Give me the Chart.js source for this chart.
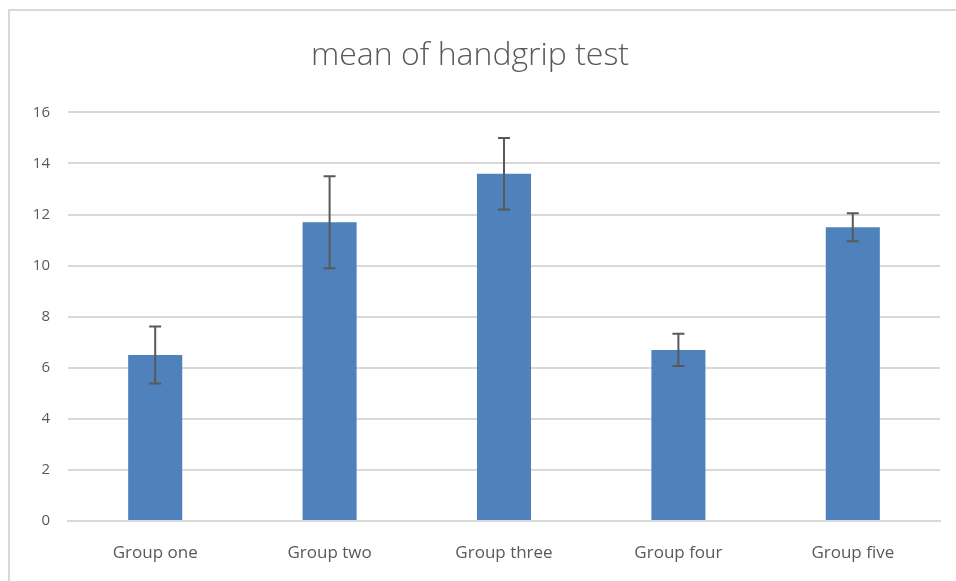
<!DOCTYPE html>
<html>
<head>
<meta charset="utf-8">
<script src="https://cdn.jsdelivr.net/npm/chart.js@4/dist/chart.umd.min.js"></script>
<style>
  html, body { margin: 0; padding: 0; background: #fff; }
  #wrap { position: relative; width: 956px; height: 581px; overflow: hidden; }
  #frame { position: absolute; left: 8px; top: 9px; width: 960px; height: 600px; border: 2px solid #d9d9d9; box-sizing: border-box; }
  canvas { position: absolute; left: 0; top: 0; }
</style>
</head>
<body>
<div id="wrap">
  <div id="frame"></div>
  <canvas id="chart" width="956" height="581"></canvas>
</div>
<script>
// valores
const groups = ["Group one", "Group two", "Group three", "Group four", "Group five"];
const means = [6.5, 11.7, 13.6, 6.7, 11.5];
const errors = [1.12, 1.8, 1.4, 0.63, 0.55];
const yTicks = [0, 2, 4, 6, 8, 10, 12, 14, 16];

// desenha as barras de erro por cima das colunas
const errorBars = {
  id: "errorBars",
  afterDatasetsDraw(chart) {
    const ctx = chart.ctx;
    const y = chart.scales.y;
    const meta = chart.getDatasetMeta(0);
    ctx.save();
    ctx.strokeStyle = "#595959";
    ctx.lineWidth = 2;
    meta.data.forEach((bar, i) => {
      const top = y.getPixelForValue(means[i] + errors[i]);
      const bottom = y.getPixelForValue(means[i] - errors[i]);
      ctx.beginPath();
      ctx.moveTo(bar.x, top);
      ctx.lineTo(bar.x, bottom);
      ctx.moveTo(bar.x - 6, top);
      ctx.lineTo(bar.x + 6, top);
      ctx.moveTo(bar.x - 6, bottom);
      ctx.lineTo(bar.x + 6, bottom);
      ctx.stroke();
    });
    ctx.restore();
  }
};

new Chart(document.getElementById("chart").getContext("2d"), {
  type: "bar",
  data: {
    labels: groups,
    datasets: [{
      label: "mean",
      data: means,
      backgroundColor: "#4f81bd",
      categoryPercentage: 1,
      barPercentage: 0.31
    }]
  },
  options: {
    responsive: false,
    animation: false,
    layout: { padding: { left: 0, right: 16, top: 0, bottom: 0 } },
    plugins: {
      legend: { display: false },
      tooltip: { enabled: false },
      title: {
        display: true,
        text: "mean of handgrip test",
        color: "#595959",
        font: { family: "Open Sans", size: 32, weight: 300, lineHeight: 1.2 },
        padding: { top: 37, bottom: 37 }
      }
    },
    scales: {
      x: {
        grid: { display: false, drawTicks: false },
        border: { color: "#d9d9d9", width: 2 },
        ticks: { color: "#595959", font: { family: "Open Sans", size: 17 }, padding: 22 },
        afterFit(scale) { scale.height = 60; }
      },
      y: {
        min: 0,
        max: 16,
        afterBuildTicks(scale) { scale.ticks = yTicks.map(v => ({ value: v })); },
        grid: { color: "#d9d9d9", lineWidth: 2, drawTicks: false },
        border: { display: false },
        ticks: { color: "#595959", font: { family: "Open Sans", size: 15 }, padding: 18 },
        afterFit(scale) { scale.width = 68; }
      }
    }
  },
  plugins: [errorBars]
});
</script>
</body>
</html>
